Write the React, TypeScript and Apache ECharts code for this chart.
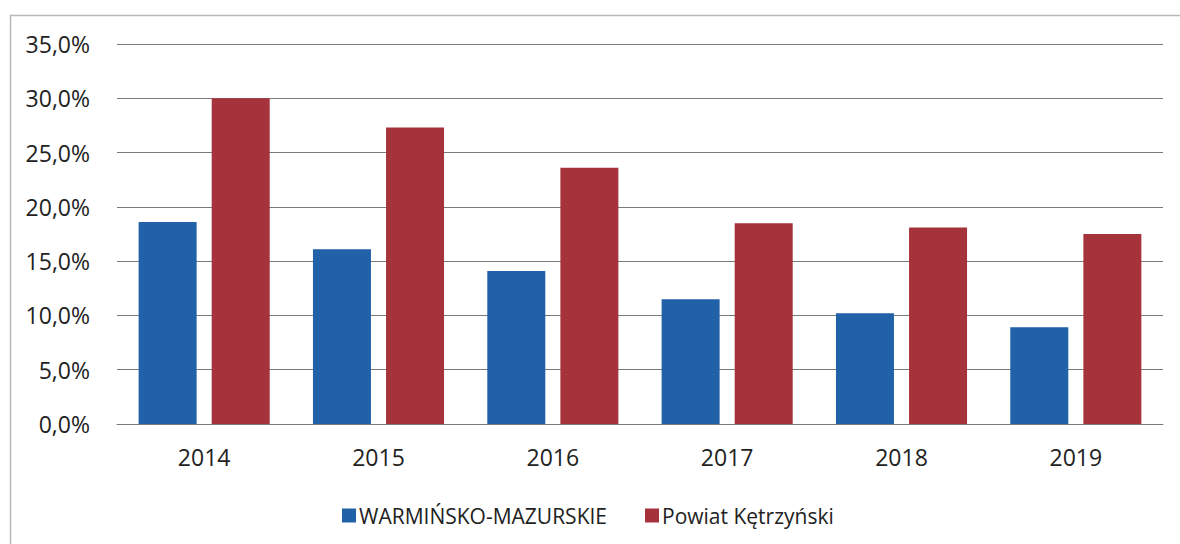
import React, { useEffect, useRef } from "react";
import * as echarts from "echarts";

const years = ["2014", "2015", "2016", "2017", "2018", "2019"];
const warminskoMazurskie = [18.6, 16.1, 14.1, 11.5, 10.2, 8.9];
const powiatKetrzynski = [30.0, 27.3, 23.6, 18.5, 18.1, 17.5];
const seriesNames = ["WARMIŃSKO-MAZURSKIE", "Powiat Kętrzyński"];

const FONT = "'Open Sans', 'Noto Sans', sans-serif";

export default function App() {
  const ref = useRef<HTMLDivElement>(null);
  useEffect(() => {
    if (!ref.current) return;
    const chart = echarts.init(ref.current, undefined, { renderer: "svg" });
    chart.setOption({
      animation: false,
      backgroundColor: "#ffffff",
      graphic: [
        {
          type: "rect",
          shape: { x: 10.5, y: 15.5, width: 1200, height: 600 },
          style: { fill: "none", stroke: "#b8b8b8", lineWidth: 1.5 },
          silent: true,
        },
      ],
      grid: { left: 117, right: 17, top: 44, bottom: 120 },
      legend: {
        top: 500,
        left: 337,
        itemWidth: 14,
        itemHeight: 14,
        itemGap: 38,
        icon: "rect",
        textStyle: { fontFamily: FONT, fontSize: 21, color: "#222", padding: [0, 0, 0, -2] },
        data: seriesNames,
      },
      xAxis: {
        type: "category",
        data: years,
        axisLine: { lineStyle: { color: "#7a7a7a", width: 1 } },
        axisTick: { show: false },
        axisLabel: { margin: 21, fontFamily: FONT, fontSize: 23, color: "#222" },
      },
      yAxis: {
        type: "value",
        min: 0,
        max: 35,
        interval: 5,
        axisLine: { show: false },
        axisTick: { show: false },
        splitLine: { lineStyle: { color: "#7a7a7a", width: 1 } },
        axisLabel: {
          margin: 27,
          fontFamily: FONT,
          fontSize: 23,
          color: "#222",
          formatter: (v: number) => v.toFixed(1).replace(".", ",") + "%",
        },
      },
      series: [
        {
          name: seriesNames[0],
          type: "bar",
          data: warminskoMazurskie,
          barWidth: 58,
          barGap: "26%",
          itemStyle: { color: "#2161a8" },
        },
        {
          name: seriesNames[1],
          type: "bar",
          data: powiatKetrzynski,
          barWidth: 58,
          itemStyle: { color: "#a6323b" },
        },
      ],
    });
    return () => chart.dispose();
  }, []);
  return (
    <div
      ref={ref}
      style={{ position: "fixed", left: 0, top: 0, width: 1180, height: 544 }}
    />
  );
}
